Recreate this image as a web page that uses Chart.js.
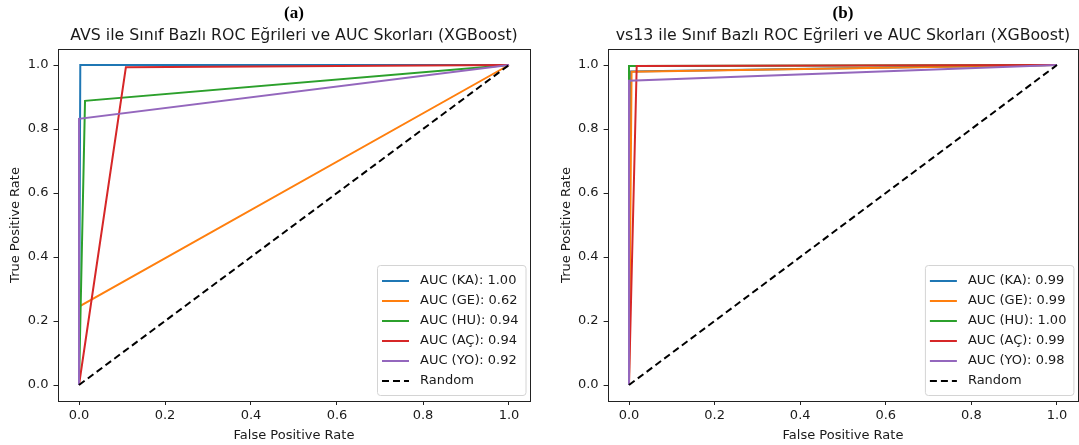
<!DOCTYPE html>
<html><head><meta charset="utf-8">
<script src="https://cdn.jsdelivr.net/npm/chart.js@4.4.1/dist/chart.umd.min.js"></script>
<style>
html,body{margin:0;padding:0;background:#fff;}
#wrap{position:relative;width:1079px;height:445px;overflow:hidden;background:#fff;}
canvas{position:absolute;top:0;}
</style></head><body>
<div id="wrap">
<canvas id="cA" width="540" height="445" style="left:0"></canvas>
<canvas id="cB" width="539" height="445" style="left:540px"></canvas>
</div>
<script>
// Per-class ROC curves (one-vs-rest), XGBoost
const classLabels = ['KA', 'GE', 'HU', 'AÇ', 'YO'];
const classColors = ['#1f77b4', '#ff7f0e', '#2ca02c', '#d62728', '#9467bd'];

// (a) AVS features
const aucA = [1.00, 0.62, 0.94, 0.94, 0.92];
const fprA = [[0, 0.003, 1], [0, 0, 1], [0, 0.014, 1], [0, 0.109, 1], [0, 0, 1]];
const tprA = [[0, 1, 1], [0, 0.245, 1], [0, 0.888, 1], [0, 0.993, 1], [0, 0.832, 1]];

// (b) vs13 features
const aucB = [0.99, 0.99, 1.00, 0.99, 0.98];
const fprB = [[0, 0.003, 1], [0, 0.006, 1], [0, 0, 1], [0, 0.018, 1], [0, 0, 1]];
const tprB = [[0, 0.98, 1], [0, 0.979, 1], [0, 0.997, 1], [0, 0.997, 1], [0, 0.951, 1]];

// Chance diagonal
const randomFpr = [0, 1];
const randomTpr = [0, 1];

const axisTicks = [0, 0.2, 0.4, 0.6, 0.8, 1.0];

const FONT = "'DejaVu Sans', sans-serif";

function buildDatasets(fpr, tpr, auc) {
  const n = classLabels.length + 1;
  const sets = classLabels.map((c, i) => ({
    label: 'AUC (' + c + '): ' + auc[i].toFixed(2),
    data: fpr[i].map((x, j) => ({ x: x, y: tpr[i][j] })),
    borderColor: classColors[i],
    borderWidth: 2,
    pointRadius: 0,
    tension: 0,
    fill: false,
    order: n - i            // later curves are painted over earlier ones
  }));
  sets.push({
    label: 'Random',
    data: randomFpr.map((x, j) => ({ x: x, y: randomTpr[j] })),
    borderColor: '#000000',
    borderWidth: 2,
    borderDash: [7, 4],
    pointRadius: 0,
    fill: false,
    order: 0
  });
  return sets;
}

// Draws panel letter, title, axes frame and an in-plot legend
const panelDecor = {
  id: 'panelDecor',
  afterDraw(chart, args, opts) {
    const ctx = chart.ctx;
    const a = chart.chartArea;
    const cx = (a.left + a.right) / 2;
    ctx.save();
    ctx.fillStyle = '#000';
    ctx.textAlign = 'center';
    ctx.textBaseline = 'middle';
    ctx.font = "bold 17px 'Liberation Serif', serif";
    ctx.fillText(opts.letter, cx, 14);
    ctx.font = '15.75px ' + FONT;
    ctx.fillStyle = '#1a1a1a';
    ctx.fillText(opts.title, cx, 36);

    // frame
    ctx.strokeStyle = '#222';
    ctx.lineWidth = 1;
    ctx.strokeRect(Math.round(a.left) + 0.5, Math.round(a.top) + 0.5,
      Math.round(a.right - a.left) - 1, Math.round(a.bottom - a.top));

    // legend
    const fs = 13;
    ctx.font = fs + 'px ' + FONT;
    const sets = chart.data.datasets;
    let tw = 0;
    sets.forEach(d => { tw = Math.max(tw, ctx.measureText(d.label).width); });
    const rowH = 20, handle = 27, padL = 5, gap = 11, padR = 7, padV = 5;
    const w = padL + handle + gap + tw + padR;
    const h = padV * 2 + rowH * sets.length;
    const x0 = a.right - 5 - w;
    const y0 = a.bottom - 6 - h;
    ctx.beginPath();
    if (ctx.roundRect) ctx.roundRect(x0 + 0.5, y0 + 0.5, w, h, 3);
    else ctx.rect(x0 + 0.5, y0 + 0.5, w, h);
    ctx.fillStyle = 'rgba(255,255,255,0.85)';
    ctx.fill();
    ctx.strokeStyle = '#d4d4d4';
    ctx.stroke();
    sets.forEach((d, i) => {
      const y = y0 + padV + rowH * i + rowH / 2 + 1;
      ctx.beginPath();
      ctx.setLineDash(d.borderDash || []);
      ctx.strokeStyle = d.borderColor;
      ctx.lineWidth = 2;
      ctx.moveTo(x0 + padL, y);
      ctx.lineTo(x0 + padL + handle, y);
      ctx.stroke();
      ctx.setLineDash([]);
      ctx.fillStyle = '#1a1a1a';
      ctx.textAlign = 'left';
      ctx.textBaseline = 'middle';
      ctx.fillText(d.label, x0 + padL + handle + gap, y);
    });
    ctx.restore();
  }
};

function makeChart(id, letter, title, fpr, tpr, auc, geom) {
  const tickFont = { family: FONT, size: 13 };
  return new Chart(document.getElementById(id), {
    type: 'line',
    data: { datasets: buildDatasets(fpr, tpr, auc) },
    options: {
      responsive: false,
      animation: false,
      events: [],
      layout: { padding: { top: 49, right: geom.right, bottom: 0, left: 0 } },
      plugins: {
        legend: { display: false },
        tooltip: { enabled: false },
        title: { display: false },
        panelDecor: { letter: letter, title: title }
      },
      scales: {
        x: {
          type: 'linear',
          min: -0.05,
          max: 1.05,
          afterBuildTicks: s => { s.ticks = axisTicks.map(v => ({ value: v })); },
          afterFit: s => { s.height = 44; },
          ticks: { font: tickFont, color: '#1a1a1a', padding: 3, maxRotation: 0,
                   callback: v => v.toFixed(1) },
          grid: { display: true, drawOnChartArea: false, drawTicks: true, tickLength: 4,
                  color: '#222' },
          border: { display: false },
          title: { display: true, text: 'False Positive Rate', font: tickFont, color: '#1a1a1a',
                   padding: { top: 2, bottom: 2 } }
        },
        y: {
          type: 'linear',
          min: -0.05,
          max: 1.05,
          afterBuildTicks: s => { s.ticks = axisTicks.map(v => ({ value: v })); },
          afterFit: s => { s.width = geom.left; },
          ticks: { font: tickFont, color: '#1a1a1a', padding: 5,
                   callback: v => v.toFixed(1) },
          grid: { display: true, drawOnChartArea: false, drawTicks: true, tickLength: 4,
                  color: '#222' },
          border: { display: false },
          title: { display: true, text: 'True Positive Rate', font: tickFont, color: '#1a1a1a',
                   padding: { top: geom.ytitle, bottom: geom.ytitle } }
        }
      }
    },
    plugins: [panelDecor]
  });
}

makeChart('cA', '(a)', 'AVS ile Sınıf Bazlı ROC Eğrileri ve AUC Skorları (XGBoost)',
  fprA, tprA, aucA, { left: 57.5, right: 9.5, ytitle: 7.5 });
makeChart('cB', '(b)', 'vs13 ile Sınıf Bazlı ROC Eğrileri ve AUC Skorları (XGBoost)',
  fprB, tprB, aucB, { left: 67.6, right: 0.6, ytitle: 18.5 });
</script>
</body></html>
